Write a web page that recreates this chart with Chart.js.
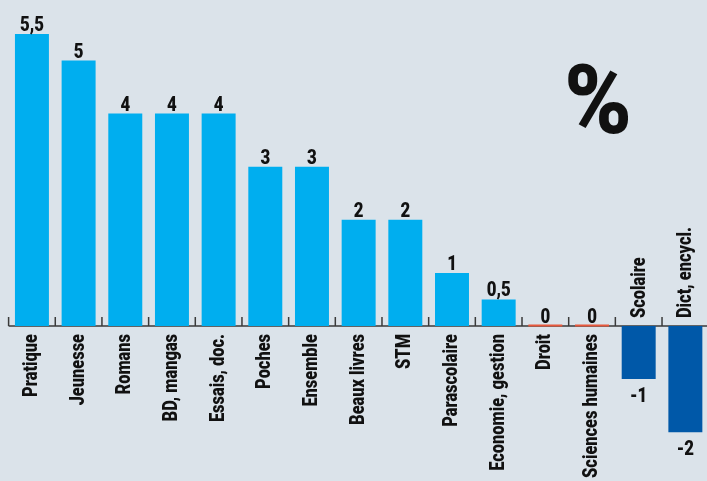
<!DOCTYPE html>
<html><head><meta charset="utf-8">
<script src="https://cdn.jsdelivr.net/npm/chart.js@4"></script>
<style>
html,body{margin:0;padding:0;background:#dbe3ea;overflow:hidden;width:707px;height:481px}
#wrap{position:absolute;left:0;top:0;width:711px;height:481px}
canvas{display:block}
</style></head><body><div id="wrap"><canvas id="c" width="711" height="481"></canvas></div>
<script>
const categories = ['Pratique','Jeunesse','Romans','BD, mangas','Essais, doc.','Poches','Ensemble','Beaux livres','STM','Parascolaire','Economie, gestion','Droit','Sciences humaines','Scolaire','Dict, encycl.'];
const values = [5.5, 5, 4, 4, 4, 3, 3, 2, 2, 1, 0.5, 0, 0, -1, -2];
const valueLabels = ['5,5','5','4','4','4','3','3','2','2','1','0,5','0','0','-1','-2'];
const unitLabel = '%';

const FONT = 'Roboto, "Liberation Sans", sans-serif';
const POS = '#00aeef', NEG = '#0058a8', ZERO = '#e8583c', AXIS = '#3a3a3a', TEXT = '#111';

function drawText(ctx, text, x, y, size, sx, align, rotated, weight) {
  ctx.save();
  ctx.font = (weight || 'bold') + ' ' + size + 'px ' + FONT;
  ctx.fillStyle = TEXT;
  ctx.textAlign = align;
  ctx.textBaseline = 'alphabetic';
  ctx.translate(x, y);
  if (rotated) ctx.rotate(-Math.PI / 2);
  ctx.scale(sx, 1);
  ctx.fillText(text, 0, 0);
  ctx.restore();
}

const deco = {
  id: 'deco',
  beforeDatasetsDraw(chart) {
    const ctx = chart.ctx, xs = chart.scales.x, ys = chart.scales.y;
    const y0 = ys.getPixelForValue(0);
    const pitch = xs.getPixelForValue(1) - xs.getPixelForValue(0);
    ctx.save();
    ctx.strokeStyle = AXIS; ctx.lineWidth = 1.5;
    ctx.beginPath();
    ctx.moveTo(chart.chartArea.left, y0); ctx.lineTo(chart.width, y0);
    for (let i = 0; i <= categories.length; i++) {
      const x = xs.getPixelForValue(0) - pitch / 2 + i * pitch;
      ctx.moveTo(x, y0); ctx.lineTo(x, y0 - 9);
    }
    ctx.stroke();
    ctx.restore();
  },
  afterDatasetsDraw(chart) {
    const ctx = chart.ctx, ys = chart.scales.y;
    const y0 = ys.getPixelForValue(0);
    const meta = chart.getDatasetMeta(0);
    meta.data.forEach((bar, i) => {
      const v = values[i];
      if (v === 0) {
        ctx.fillStyle = ZERO;
        ctx.fillRect(bar.x - bar.width / 2, y0 - 1.5, bar.width, 2);
      }
      if (v >= 0) drawText(ctx, valueLabels[i], bar.x, bar.y - 3, 21, 0.8, 'center', false, '900');
      else drawText(ctx, valueLabels[i], bar.x, bar.y + 23, 21, 0.8, 'center', false, '900');
      if (v >= 0) drawText(ctx, categories[i], bar.x + 5, y0 + 8, 20, 0.82, 'right', true, '900');
      else drawText(ctx, categories[i], bar.x + 6, y0 - 8, 20, 0.82, 'left', true, '900');
    });
    drawText(ctx, unitLabel, 598, 133, 96, 0.95, 'center', false, '900');
  }
};

new Chart(document.getElementById('c'), {
  type: 'bar',
  data: {
    labels: categories,
    datasets: [{
      data: values,
      backgroundColor: values.map(v => v > 0 ? POS : (v < 0 ? NEG : 'rgba(0,0,0,0)')),
      borderWidth: 0,
      barPercentage: 0.728,
      categoryPercentage: 1
    }]
  },
  options: {
    responsive: false,
    animation: false,
    layout: { padding: { left: 8.6, right: 2.3, top: 7.4, bottom: 22.25 } },
    plugins: { legend: { display: false }, tooltip: { enabled: false } },
    scales: {
      x: { display: false, offset: true },
      y: { display: false, min: -2.5, max: 6 }
    }
  },
  plugins: [deco]
});
</script></body></html>
